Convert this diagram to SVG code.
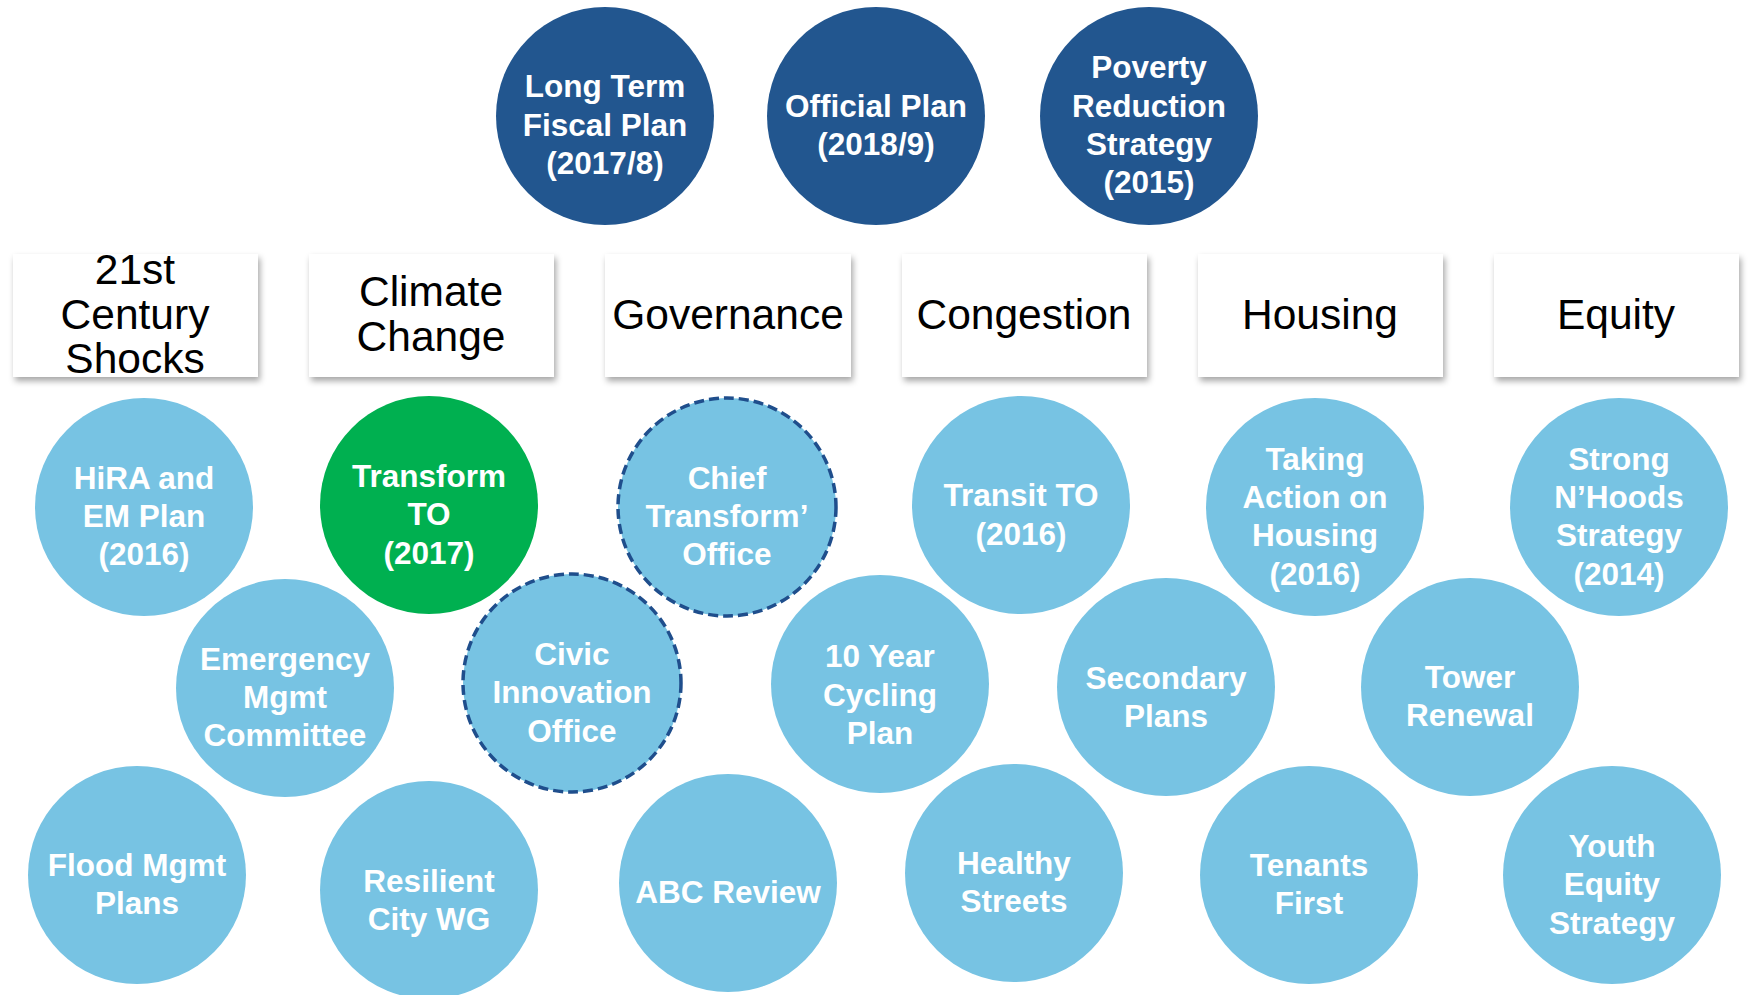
<svg xmlns="http://www.w3.org/2000/svg" width="1748" height="995" viewBox="0 0 1748 995">
<defs>
<filter id="sh" x="-10%" y="-10%" width="125%" height="130%">
<feDropShadow dx="2" dy="4" stdDeviation="3" flood-color="#000" flood-opacity="0.35"/>
</filter>
</defs>
<style>
.top{fill:#22568f}
.lb{fill:#77c3e3}
.gr{fill:#00b050}
.dash{stroke:#1f4e8c;stroke-width:3.5;stroke-dasharray:10 5}
.box{fill:#fff;filter:url(#sh)}
.bt{font-family:"Liberation Sans",Arial,sans-serif;font-size:42.5px;fill:#000;text-anchor:middle}
.ct{font-family:"Liberation Sans",Arial,sans-serif;font-weight:bold;font-size:31.5px;fill:#fff;text-anchor:middle}
.tt{font-family:"Liberation Sans",Arial,sans-serif;font-weight:bold;font-size:31.5px;fill:#fff;text-anchor:middle}
</style>
<rect width="1748" height="995" fill="#fff"/>
<g id="connectors"></g>

<g id="longterm"><circle class="top" cx="605" cy="116" r="109"/>
<text class="tt"><tspan x="605" y="97">Long Term</tspan><tspan x="605" y="136">Fiscal Plan</tspan><tspan x="605" y="174">(2017/8)</tspan></text></g>
<g id="official"><circle class="top" cx="876" cy="116" r="109"/>
<text class="tt"><tspan x="876" y="117">Official Plan</tspan><tspan x="876" y="155">(2018/9)</tspan></text></g>
<g id="poverty"><circle class="top" cx="1149" cy="116" r="109"/>
<text class="tt"><tspan x="1149" y="78">Poverty</tspan><tspan x="1149" y="117">Reduction</tspan><tspan x="1149" y="155">Strategy</tspan><tspan x="1149" y="193">(2015)</tspan></text></g>

<g id="box-shocks"><rect class="box" x="13" y="254" width="245" height="123"/>
<text class="bt"><tspan x="135" y="284">21st</tspan><tspan x="135" y="329">Century</tspan><tspan x="135" y="373">Shocks</tspan></text></g>
<g id="box-climate"><rect class="box" x="309" y="254" width="245" height="123"/>
<text class="bt"><tspan x="431" y="306">Climate</tspan><tspan x="431" y="351">Change</tspan></text></g>
<g id="box-governance"><rect class="box" x="605" y="254" width="246" height="123"/>
<text class="bt" x="728" y="329">Governance</text></g>
<g id="box-congestion"><rect class="box" x="902" y="254" width="245" height="123"/>
<text class="bt" x="1024" y="329">Congestion</text></g>
<g id="box-housing"><rect class="box" x="1198" y="254" width="245" height="123"/>
<text class="bt" x="1320" y="329">Housing</text></g>
<g id="box-equity"><rect class="box" x="1494" y="254" width="245" height="123"/>
<text class="bt" x="1616" y="329">Equity</text></g>

<g id="hira"><circle class="lb" cx="144" cy="507" r="109"/>
<text class="ct"><tspan x="144" y="489">HiRA and</tspan><tspan x="144" y="527">EM Plan</tspan><tspan x="144" y="565">(2016)</tspan></text></g>
<g id="transformto"><circle class="gr" cx="429" cy="505" r="109"/>
<text class="ct"><tspan x="429" y="487">Transform</tspan><tspan x="429" y="525">TO</tspan><tspan x="429" y="564">(2017)</tspan></text></g>
<g id="chief"><circle class="lb dash" cx="727" cy="507" r="109"/>
<text class="ct"><tspan x="727" y="489">Chief</tspan><tspan x="727" y="527">Transform’</tspan><tspan x="727" y="565">Office</tspan></text></g>
<g id="transit"><circle class="lb" cx="1021" cy="505" r="109"/>
<text class="ct"><tspan x="1021" y="506">Transit TO</tspan><tspan x="1021" y="545">(2016)</tspan></text></g>
<g id="taking"><circle class="lb" cx="1315" cy="507" r="109"/>
<text class="ct"><tspan x="1315" y="470">Taking</tspan><tspan x="1315" y="508">Action on</tspan><tspan x="1315" y="546">Housing</tspan><tspan x="1315" y="585">(2016)</tspan></text></g>
<g id="strong"><circle class="lb" cx="1619" cy="507" r="109"/>
<text class="ct"><tspan x="1619" y="470">Strong</tspan><tspan x="1619" y="508">N’Hoods</tspan><tspan x="1619" y="546">Strategy</tspan><tspan x="1619" y="585">(2014)</tspan></text></g>

<g id="emergency"><circle class="lb" cx="285" cy="688" r="109"/>
<text class="ct"><tspan x="285" y="670">Emergency</tspan><tspan x="285" y="708">Mgmt</tspan><tspan x="285" y="746">Committee</tspan></text></g>
<g id="civic"><circle class="lb dash" cx="572" cy="683" r="109"/>
<text class="ct"><tspan x="572" y="665">Civic</tspan><tspan x="572" y="703">Innovation</tspan><tspan x="572" y="742">Office</tspan></text></g>
<g id="cycling"><circle class="lb" cx="880" cy="684" r="109"/>
<text class="ct"><tspan x="880" y="667">10 Year</tspan><tspan x="880" y="706">Cycling</tspan><tspan x="880" y="744">Plan</tspan></text></g>
<g id="secondary"><circle class="lb" cx="1166" cy="687" r="109"/>
<text class="ct"><tspan x="1166" y="689">Secondary</tspan><tspan x="1166" y="727">Plans</tspan></text></g>
<g id="tower"><circle class="lb" cx="1470" cy="687" r="109"/>
<text class="ct"><tspan x="1470" y="688">Tower</tspan><tspan x="1470" y="726">Renewal</tspan></text></g>

<g id="flood"><circle class="lb" cx="137" cy="875" r="109"/>
<text class="ct"><tspan x="137" y="876">Flood Mgmt</tspan><tspan x="137" y="914">Plans</tspan></text></g>
<g id="resilient"><circle class="lb" cx="429" cy="890" r="109"/>
<text class="ct"><tspan x="429" y="892">Resilient</tspan><tspan x="429" y="930">City WG</tspan></text></g>
<g id="abc"><circle class="lb" cx="728" cy="883" r="109"/>
<text class="ct" x="728" y="903">ABC Review</text></g>
<g id="healthy"><circle class="lb" cx="1014" cy="873" r="109"/>
<text class="ct"><tspan x="1014" y="874">Healthy</tspan><tspan x="1014" y="912">Streets</tspan></text></g>
<g id="tenants"><circle class="lb" cx="1309" cy="875" r="109"/>
<text class="ct"><tspan x="1309" y="876">Tenants</tspan><tspan x="1309" y="914">First</tspan></text></g>
<g id="youth"><circle class="lb" cx="1612" cy="875" r="109"/>
<text class="ct"><tspan x="1612" y="857">Youth</tspan><tspan x="1612" y="895">Equity</tspan><tspan x="1612" y="934">Strategy</tspan></text></g>
</svg>
